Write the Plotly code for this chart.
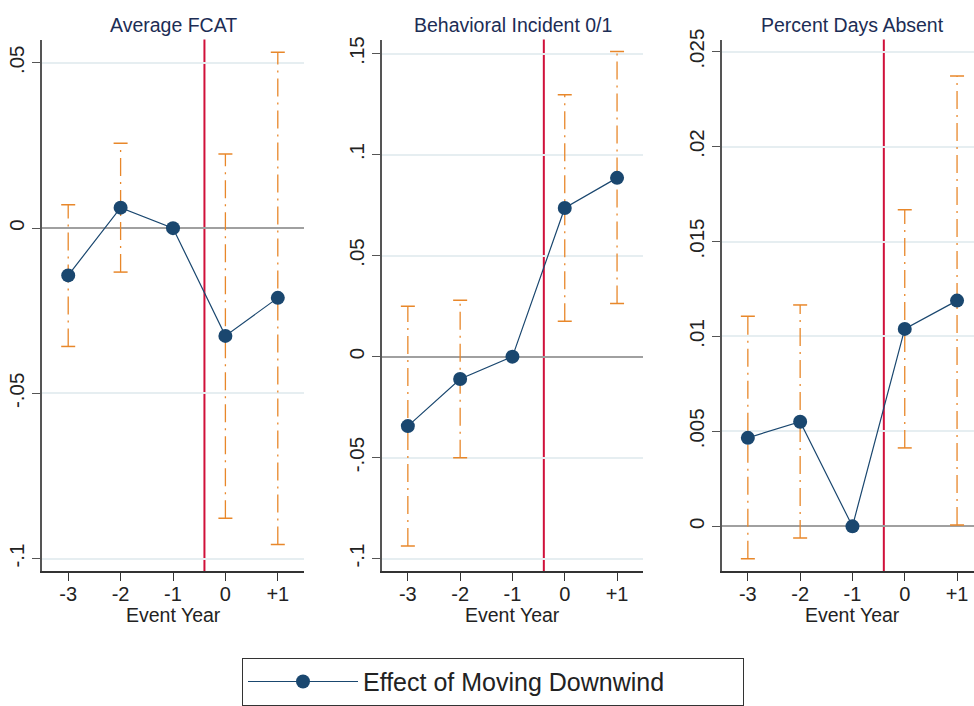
import plotly.graph_objects as go

# ---------------- data ----------------
event_years = [-3, -2, -1, 0, 1]
event_year_labels = ["-3", "-2", "-1", "0", "+1"]

panel_titles = ["Average FCAT", "Behavioral Incident 0/1", "Percent Days Absent"]

fcat_coef = [-0.0143, 0.0062, 0.0, -0.0326, -0.0211]
fcat_lower = [-0.0358, -0.0133, None, -0.0878, -0.0957]
fcat_upper = [0.0071, 0.0257, None, 0.0224, 0.0532]

behav_coef = [-0.0344, -0.0111, 0.0, 0.0736, 0.0885]
behav_lower = [-0.0937, -0.0500, None, 0.0175, 0.0263]
behav_upper = [0.0249, 0.0279, None, 0.1296, 0.1510]

absent_coef = [0.00466, 0.00551, 0.0, 0.01040, 0.01189]
absent_lower = [-0.00171, -0.00062, None, 0.00413, 0.00007]
absent_upper = [0.01106, 0.01166, None, 0.01667, 0.02372]

fcat_ticks = [-0.1, -0.05, 0, 0.05]
fcat_ticktext = ["-.1", "-.05", "0", ".05"]
behav_ticks = [-0.1, -0.05, 0, 0.05, 0.1, 0.15]
behav_ticktext = ["-.1", "-.05", "0", ".05", ".1", ".15"]
absent_ticks = [0, 0.005, 0.01, 0.015, 0.02, 0.025]
absent_ticktext = ["0", ".005", ".01", ".015", ".02", ".025"]

legend_label = "Effect of Moving Downwind"
x_title = "Event Year"
treatment_line_x = -0.4

# ---------------- style ----------------
W, H = 974, 706
NAVY = "#1a476f"
ORANGE = "#e8872a"
RED = "#d0103a"
GRID = "#e6eef1"
ZERO = "#a0a0a0"
AXIS = "#555555"
TITLE_C = "#1c2d55"
FONT = "Liberation Sans, Arial, sans-serif"

panels = [
    dict(coef=fcat_coef, lo=fcat_lower, hi=fcat_upper, ticks=fcat_ticks, tt=fcat_ticktext,
         xdom=[42 / W, 304 / W], xr=[-3.5, 1.5], yr=[-0.10378, 0.05706], center=173),
    dict(coef=behav_coef, lo=behav_lower, hi=behav_upper, ticks=behav_ticks, tt=behav_ticktext,
         xdom=[381.7 / W, 643.2 / W], xr=[-3.5, 1.5], yr=[-0.10619, 0.15697], center=512.5),
    dict(coef=absent_coef, lo=absent_lower, hi=absent_upper, ticks=absent_ticks, tt=absent_ticktext,
         xdom=[721.7 / W, 1.0], xr=[-3.5, 1.324], yr=[-0.00236, 0.02564], center=852),
]
ydom = [1 - 569 / H, 1 - 29 / H]

fig = go.Figure()
layout = dict(
    width=W, height=H,
    margin=dict(l=0, r=0, t=0, b=0),
    paper_bgcolor="white", plot_bgcolor="white",
    font=dict(family=FONT, size=20, color="#222222"),
    showlegend=True,
    shapes=[], annotations=[],
)

for i, p in enumerate(panels):
    n = "" if i == 0 else str(i + 1)
    xa, ya = "x" + n, "y" + n

    # error-bar stems and caps
    sx, sy = [], []
    cx, cy = [], []
    for x, lo, hi in zip(event_years, p["lo"], p["hi"]):
        if lo is None:
            continue
        sx += [x, x, None]
        sy += [lo, hi, None]
        cx += [x, x]
        cy += [lo, hi]
    fig.add_trace(go.Scatter(x=sx, y=sy, mode="lines", xaxis=xa, yaxis=ya,
                             line=dict(color=ORANGE, width=1.3, dash="18px,6px,2px,6px"),
                             showlegend=False, hoverinfo="skip"))
    fig.add_trace(go.Scatter(x=cx, y=cy, mode="markers", xaxis=xa, yaxis=ya,
                             marker=dict(symbol="line-ew", size=10,
                                         line=dict(color=ORANGE, width=1.5)),
                             showlegend=False, hoverinfo="skip"))
    # coefficient line
    fig.add_trace(go.Scatter(x=event_years, y=p["coef"], mode="lines+markers",
                             xaxis=xa, yaxis=ya, name=legend_label,
                             line=dict(color=NAVY, width=1.2),
                             marker=dict(color=NAVY, size=14, line=dict(color=NAVY, width=0)),
                             showlegend=(i == 0)))

    layout["xaxis" + n] = dict(
        domain=p["xdom"], range=p["xr"], anchor=ya,
        tickvals=event_years, ticktext=event_year_labels,
        ticks="outside", ticklen=8, tickwidth=1.3, tickcolor="#333333",
        showline=True, linecolor="#333333", linewidth=1.5,
        showgrid=False, zeroline=False, fixedrange=True,
        ticklabelstandoff=-4,
        tickfont=dict(size=20, color="#222222"),
    )
    layout["yaxis" + n] = dict(
        domain=ydom, range=p["yr"], anchor=xa,
        tickvals=p["ticks"], ticktext=p["tt"], tickangle=-90,
        ticks="outside", ticklen=8, tickwidth=1.3, tickcolor=AXIS,
        showline=True, linecolor=AXIS, linewidth=1.8,
        showgrid=True, gridcolor=GRID, gridwidth=1.5,
        zeroline=True, zerolinecolor=ZERO, zerolinewidth=1.8,
        fixedrange=True,
        tickfont=dict(size=20.5, color="#222222"),
    )
    # treatment reference line
    layout["shapes"].append(dict(type="line", xref=xa, yref=ya + " domain",
                                 x0=treatment_line_x, x1=treatment_line_x, y0=0, y1=1,
                                 line=dict(color=RED, width=2), layer="below"))
    # panel title
    layout["annotations"].append(dict(text=panel_titles[i], xref="paper", yref="paper",
                                      x=p["center"] / W, y=1 - 14 / H, showarrow=False,
                                      xanchor="center", yanchor="middle",
                                      font=dict(size=19.5, color=TITLE_C, family=FONT)))
    # x-axis title
    layout["annotations"].append(dict(text=x_title, xref="paper", yref="paper",
                                      x=p["center"] / W, y=1 - 614 / H, showarrow=False,
                                      xanchor="center", yanchor="middle",
                                      font=dict(size=19.5, color="#222222", family=FONT)))

layout["legend"] = dict(
    orientation="h", x=493 / W, y=1 - 657 / H, xanchor="center", yanchor="top",
    bordercolor="#333333", borderwidth=1, bgcolor="white",
    font=dict(size=25, color="#222222", family=FONT),
    itemwidth=110, entrywidth=375,
)

fig.update_layout(**layout)
fig.write_html("out.html", config={"displayModeBar": False},
               post_script="document.body.style.margin='0';")
